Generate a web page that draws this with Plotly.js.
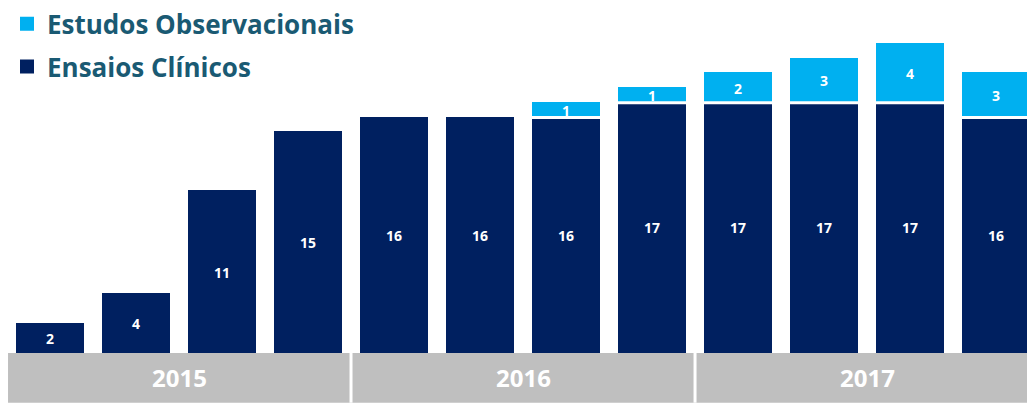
<!DOCTYPE html>
<html>
<head>
<meta charset="utf-8">
<script src="https://cdn.plot.ly/plotly-3.0.1.min.js"></script>
<style>html,body{margin:0;padding:0;background:#fff;}#chart{width:1027px;height:403px;}</style>
</head>
<body>
<div id="chart"></div>
<script>
const categories = ["2015 T1","2015 T2","2015 T3","2015 T4","2016 T1","2016 T2","2016 T3","2016 T4","2017 T1","2017 T2","2017 T3","2017 T4"];
const ensaiosClinicos = [2, 4, 11, 15, 16, 16, 16, 17, 17, 17, 17, 16];
const estudosObservacionais = [0, 0, 0, 0, 0, 0, 1, 1, 2, 3, 4, 3];
const years = ["2015", "2016", "2017"];
const seriesNames = ["Ensaios Clínicos", "Estudos Observacionais"];

const idx = categories.map((c, i) => i);
const darkBlue = "#002060";
const lightBlue = "#00b0f0";
const bargap = 0.233;

const labelFont = {family: "Open Sans, sans-serif", size: 14, color: "#ffffff", weight: "bold"};

const traceEC = {
  type: "bar", name: seriesNames[0], x: idx, y: ensaiosClinicos,
  marker: {color: darkBlue, line: {color: darkBlue, width: 2}},
  text: ensaiosClinicos.map(String), textposition: "inside", insidetextanchor: "middle",
  textangle: 0, constraintext: "none", textfont: labelFont,
  hoverinfo: "skip", legendgroup: "a", legendrank: 2
};
const traceEO = {
  type: "bar", name: seriesNames[1], x: idx,
  y: estudosObservacionais.map(v => v === 0 ? null : v),
  marker: {color: lightBlue, line: {color: lightBlue, width: 2}},
  text: estudosObservacionais.map(v => v === 0 ? "" : String(v)), textposition: "inside", insidetextanchor: "middle",
  textangle: 0, constraintext: "none", textfont: labelFont,
  hoverinfo: "skip", legendgroup: "b", legendrank: 1
};

const halfW = (1 - bargap) / 2 + 0.012;
const shapes = [
  {type: "rect", xref: "x", yref: "paper", x0: -0.488, x1: 11.36, y0: -50/353, y1: 0, fillcolor: "#bfbfbf", line: {width: 0}, layer: "below"},
  {type: "line", xref: "x", yref: "paper", x0: 3.5, x1: 3.5, y0: -50/353, y1: 0, line: {color: "#ffffff", width: 3}},
  {type: "line", xref: "x", yref: "paper", x0: 7.5, x1: 7.5, y0: -50/353, y1: 0, line: {color: "#ffffff", width: 3}}
];
// white separation between the stacked segments
idx.forEach(i => {
  if (estudosObservacionais[i] > 0) {
    shapes.push({type: "line", xref: "x", yref: "y", x0: i - halfW, x1: i + halfW,
      y0: ensaiosClinicos[i], y1: ensaiosClinicos[i], line: {color: "#ffffff", width: 3}});
  }
});
const annotations = years.map((yr, k) => ({
  text: yr, xref: "x", yref: "paper", x: 1.5 + 4 * k, y: -25/353, yanchor: "middle", xanchor: "center",
  showarrow: false, font: {family: "Open Sans, sans-serif", size: 24, color: "#ffffff", weight: "bold"}
}));

const layout = {
  width: 1027, height: 403,
  margin: {l: 7, r: 0, t: 0, b: 50, pad: 0},
  paper_bgcolor: "#ffffff", plot_bgcolor: "#ffffff",
  barmode: "stack", bargap: bargap,
  xaxis: {range: [-0.5, 11.36], showticklabels: false, showgrid: false, zeroline: false, showline: false, ticks: "", fixedrange: true},
  yaxis: {range: [0, 23.85], showticklabels: false, showgrid: false, zeroline: false, showline: false, ticks: "", fixedrange: true},
  showlegend: true,
  legend: {x: 0, y: 1.005, xanchor: "left", yanchor: "top", traceorder: "grouped", tracegroupgap: 6,
    font: {family: "Open Sans, sans-serif", size: 26, color: "#1a5a73", weight: "bold"},
    bgcolor: "rgba(0,0,0,0)", itemclick: false, itemdoubleclick: false},
  shapes: shapes, annotations: annotations,
  font: {family: "Open Sans, sans-serif"}
};

Plotly.newPlot("chart", [traceEC, traceEO], layout, {displayModeBar: false, staticPlot: true});
</script>
</body>
</html>
